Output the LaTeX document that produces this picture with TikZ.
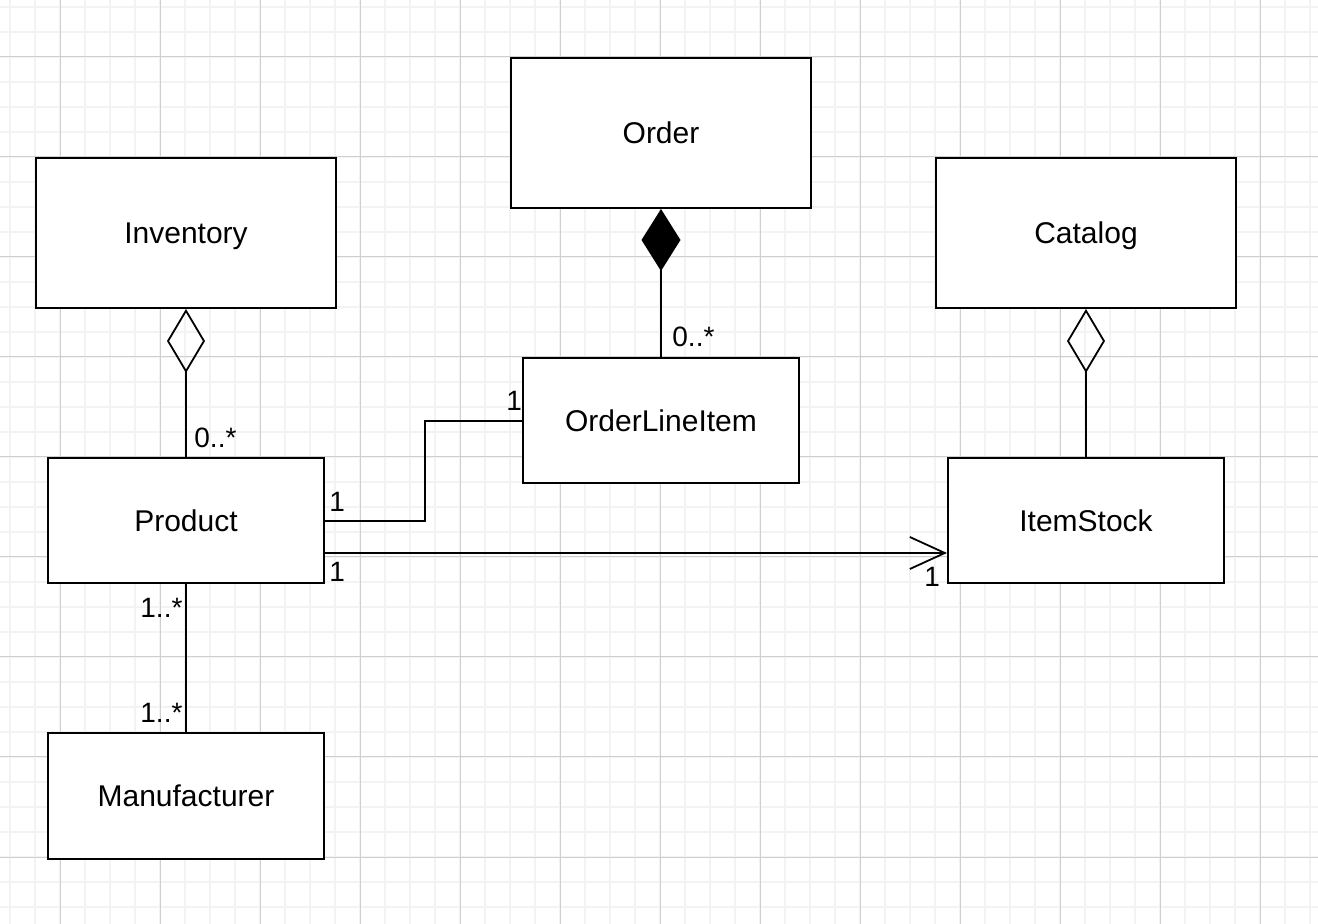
\documentclass[tikz,border=0pt]{standalone}
\usepackage{fontspec}
\setmainfont{Liberation Sans}
\usetikzlibrary{arrows.meta}
\definecolor{gminor}{HTML}{F3F3F3}
\definecolor{gmajor}{HTML}{CFCFCF}
\begin{document}
\begin{tikzpicture}[x=0.5pt,y=-0.5pt,
  minorline/.style={draw=gminor,line width=0.8pt},
  majorline/.style={draw=gmajor,line width=0.5pt},
  boxtext/.style={font=\fontsize{15}{18}\selectfont,text height=10.8pt,text depth=0pt},
  bigbox/.style={draw,line width=1pt,fill=white,minimum width=150pt,minimum height=75pt,inner sep=0pt,boxtext},
  smallbox/.style={draw,line width=1pt,fill=white,minimum width=138pt,minimum height=62.5pt,inner sep=0pt,boxtext},
  conn/.style={line width=0.9pt},
  lbl/.style={inner sep=0pt,anchor=base west,font=\fontsize{14}{16}\selectfont},
  aggr/.style={{Diamond[open,length=32pt,width=19pt,line width=0.9pt]}-},
  comp/.style={{Diamond[length=31pt,width=19.5pt]}-},
  nav/.style={-{Straight Barb[length=17.5pt,width=16pt,line width=0.9pt]}}
]
\useasboundingbox (0,0) rectangle (1318,924);
\fill[white] (0,0) rectangle (1318,924);
% grid
\foreach \x in {10,35,...,1310} \draw[minorline] (\x,0) -- (\x,924);
\foreach \y in {7,32,...,924} \draw[minorline] (0,\y) -- (1318,\y);
\foreach \x in {60,160,...,1310} \draw[majorline] (\x,0) -- (\x,924);
\foreach \y in {57,157,...,924} \draw[majorline] (0,\y) -- (1318,\y);
% boxes
\node[bigbox] (ord) at (661,133) {Order};
\node[bigbox] (inv) at (186,233) {Inventory};
\node[bigbox] (cat) at (1086,233) {Catalog};
\node[smallbox] (oli) at (661,421) {OrderLineItem};
\node[smallbox] (prod) at (186,521) {Product};
\node[smallbox] (stock) at (1086,521) {ItemStock};
\node[smallbox] (manu) at (186,796) {Manufacturer};
% connectors
\draw[conn,aggr] (inv.south) -- (prod.north);
\draw[conn,comp] (ord.south) -- (oli.north);
\draw[conn,aggr] (cat.south) -- (stock.north);
\draw[conn] (prod.east) -- ++(100,0) |- (oli.west);
\draw[conn,nav] ([yshift=-16pt]prod.east) -- ([yshift=-16pt]stock.west);
\draw[conn] (prod.south) -- (manu.north);
% labels
\node[lbl] (l1) at (194,448) {0..*};
\node[lbl] (l2) at (672,347) {0..*};
\node[lbl] (l3) at (329,512) {1};
\node[lbl] (l4) at (506,411) {1};
\node[lbl] (l5) at (329,582) {1};
\node[lbl] (l6) at (924,587) {1};
\node[lbl] (l7) at (140,618) {1..*};
\node[lbl] (l8) at (140,723) {1..*};
\end{tikzpicture}
\end{document}
